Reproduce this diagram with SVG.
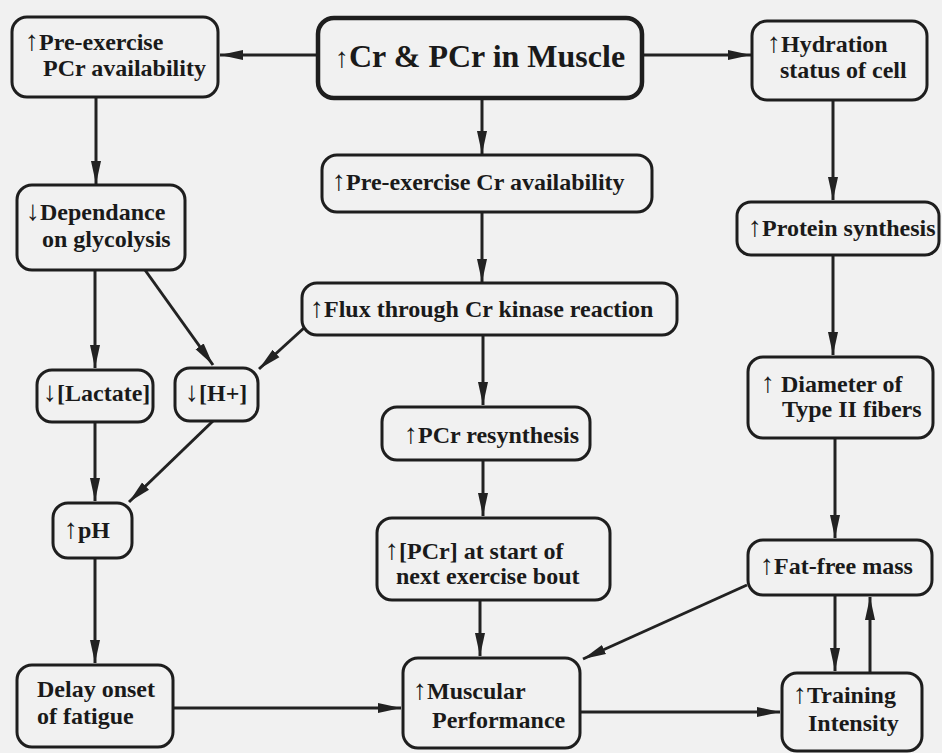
<svg xmlns="http://www.w3.org/2000/svg" width="942" height="753" viewBox="0 0 942 753">
<style>
.bx{fill:none;stroke:#1e1e1e;stroke-width:3}
.main{stroke-width:4.5}
.t{font-family:"Liberation Serif","Times New Roman",serif;font-weight:bold;font-size:24px;fill:#1a1a1a}
.big{font-size:32px}
.ar{font-weight:normal;font-size:28px}
.c{fill:none;stroke:#222;stroke-width:3;marker-end:url(#ah)}
</style>
<defs>
<marker id="ah" markerUnits="userSpaceOnUse" markerWidth="24" markerHeight="12" viewBox="0 0 24 12" refX="23" refY="6" orient="auto">
<path d="M0,1 L23,6 L0,11 z" fill="#222"/>
</marker>
</defs>
<rect width="942" height="753" fill="#f1f1f1"/>

<g id="connectors">
<path class="c" d="M318,55 L220,55"/>
<path class="c" d="M642,55 L751,55"/>
<path class="c" d="M482,98 L482,154"/>
<path class="c" d="M96,97 L96,184"/>
<path class="c" d="M833,100 L833,200"/>
<path class="c" d="M482,212 L482,282"/>
<path class="c" d="M95,270 L95,368"/>
<path class="c" d="M145,270 L213,365"/>
<path class="c" d="M304,328 L259,369"/>
<path class="c" d="M833,255 L833,355"/>
<path class="c" d="M483,335 L483,405"/>
<path class="c" d="M95,422 L95,501"/>
<path class="c" d="M213,421 L129,502"/>
<path class="c" d="M483,460 L483,516"/>
<path class="c" d="M835,438 L835,538"/>
<path class="c" d="M95,558 L95,663"/>
<path class="c" d="M480,600 L480,656"/>
<path class="c" d="M747,585 L583,659"/>
<path class="c" d="M173,708 L401,708"/>
<path class="c" d="M580,712 L780,712"/>
<path class="c" d="M835,595 L835,671"/>
<path class="c" d="M870,673 L870,597"/>
</g>

<g id="pcr-avail">
<rect class="bx" x="12" y="17" width="206" height="80" rx="15"/>
<text class="t" x="25" y="50"><tspan class="ar">↑</tspan>Pre-exercise</text>
<text class="t" x="43" y="76">PCr availability</text>
</g>

<g id="main">
<rect class="bx main" x="318" y="18" width="324" height="80" rx="16"/>
<text class="t big" x="335" y="67"><tspan class="ar">↑</tspan>Cr &amp; PCr in Muscle</text>
</g>

<g id="hydration">
<rect class="bx" x="752" y="21" width="175" height="79" rx="15"/>
<text class="t" x="767" y="52"><tspan class="ar">↑</tspan>Hydration</text>
<text class="t" x="780" y="78">status of cell</text>
</g>

<g id="cr-avail">
<rect class="bx" x="322" y="155" width="330" height="57" rx="15"/>
<text class="t" x="332" y="190"><tspan class="ar">↑</tspan>Pre-exercise Cr availability</text>
</g>

<g id="glycolysis">
<rect class="bx" x="17" y="185" width="168" height="85" rx="15"/>
<text class="t" x="26" y="220"><tspan class="ar">↓</tspan>Dependance</text>
<text class="t" x="42" y="247">on glycolysis</text>
</g>

<g id="protein">
<rect class="bx" x="737" y="202" width="202" height="53" rx="14"/>
<text class="t" x="748" y="236"><tspan class="ar">↑</tspan>Protein synthesis</text>
</g>

<g id="flux">
<rect class="bx" x="302" y="283" width="375" height="52" rx="15"/>
<text class="t" x="310" y="317"><tspan class="ar">↑</tspan>Flux through Cr kinase reaction</text>
</g>

<g id="diameter">
<rect class="bx" x="748" y="357" width="185" height="81" rx="15"/>
<text class="t" x="761" y="392"><tspan class="ar">↑</tspan> Diameter of</text>
<text class="t" x="782" y="417">Type II fibers</text>
</g>

<g id="lactate">
<rect class="bx" x="37" y="370" width="116" height="52" rx="15"/>
<text class="t" x="43" y="401"><tspan class="ar">↓</tspan>[Lactate]</text>
</g>

<g id="hplus">
<rect class="bx" x="175" y="368" width="83" height="53" rx="15"/>
<text class="t" x="185" y="401"><tspan class="ar">↓</tspan>[H+]</text>
</g>

<g id="pcr-resynth">
<rect class="bx" x="382" y="407" width="208" height="53" rx="15"/>
<text class="t" x="404" y="443"><tspan class="ar">↑</tspan>PCr resynthesis</text>
</g>

<g id="ph">
<rect class="bx" x="53" y="503" width="79" height="55" rx="15"/>
<text class="t" x="64" y="538"><tspan class="ar">↑</tspan>pH</text>
</g>

<g id="pcr-start">
<rect class="bx" x="377" y="518" width="233" height="82" rx="15"/>
<text class="t" x="385" y="559"><tspan class="ar">↑</tspan>[PCr] at start of</text>
<text class="t" x="396" y="584">next exercise bout</text>
</g>

<g id="fatfree">
<rect class="bx" x="748" y="540" width="184" height="55" rx="15"/>
<text class="t" x="760" y="574"><tspan class="ar">↑</tspan>Fat-free mass</text>
</g>

<g id="delay">
<rect class="bx" x="17" y="665" width="156" height="82" rx="15"/>
<text class="t" x="37" y="697">Delay onset</text>
<text class="t" x="37" y="724">of fatigue</text>
</g>

<g id="muscular">
<rect class="bx" x="403" y="658" width="177" height="90" rx="15"/>
<text class="t" x="413" y="699"><tspan class="ar">↑</tspan>Muscular</text>
<text class="t" x="432" y="728">Performance</text>
</g>

<g id="training">
<rect class="bx" x="782" y="673" width="140" height="78" rx="15"/>
<text class="t" x="793" y="703"><tspan class="ar">↑</tspan>Training</text>
<text class="t" x="808" y="731">Intensity</text>
</g>
</svg>
